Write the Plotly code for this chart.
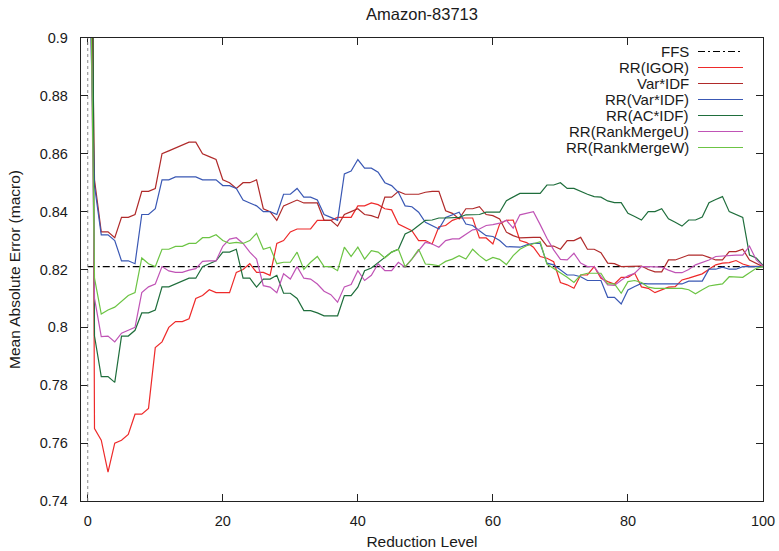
import plotly.graph_objects as go

title_text = "Amazon-83713"
x_label = "Reduction Level"
y_label = "Mean Absolute Error (macro)"

reduction_levels = list(range(0, 101))
ffs_value = 0.821

series_names = ["RR(IGOR)", "Var*IDF", "RR(Var*IDF)", "RR(AC*IDF)", "RR(RankMergeU)", "RR(RankMergeW)"]
series_colors = ["#ee2a2a", "#b02a2a", "#3a58b4", "#1f6e3c", "#c054b6", "#6cc444"]

rr_igor = [
    1.35, 0.765, 0.761, 0.750, 0.760, 0.761, 0.763, 0.770, 0.770, 0.772,
    0.793, 0.795, 0.800, 0.802, 0.802, 0.803, 0.810, 0.811, 0.813, 0.812,
    0.812, 0.812, 0.819, 0.820, 0.822, 0.819, 0.819, 0.818, 0.829, 0.830,
    0.833, 0.834, 0.834, 0.834, 0.837, 0.837, 0.837, 0.838, 0.838, 0.838,
    0.842, 0.842, 0.843, 0.8424, 0.841, 0.8406, 0.8357, 0.8346, 0.8334, 0.830,
    0.830, 0.8288, 0.8348, 0.8352, 0.837, 0.8378, 0.8378, 0.8378, 0.8309, 0.8309,
    0.8288, 0.8357, 0.837, 0.8371, 0.830, 0.8293, 0.8277, 0.8245, 0.8239, 0.8227,
    0.8155, 0.8147, 0.8135, 0.8181, 0.8181, 0.821, 0.817, 0.8158, 0.815, 0.8173,
    0.8173, 0.8187, 0.814, 0.8135, 0.812, 0.813, 0.8139, 0.8141, 0.8164, 0.817,
    0.8178, 0.8185, 0.8201, 0.8216, 0.8222, 0.8224, 0.8231, 0.8219, 0.8212, 0.8212,
    0.821,
]

var_idf = [
    1.02, 0.851, 0.833, 0.833, 0.831, 0.838, 0.838, 0.839, 0.847, 0.847,
    0.848, 0.860, 0.861, 0.862, 0.863, 0.864, 0.864, 0.860, 0.859, 0.858,
    0.851, 0.850, 0.848, 0.850, 0.850, 0.851, 0.841, 0.840, 0.837, 0.842,
    0.843, 0.844, 0.843, 0.843, 0.843, 0.837, 0.837, 0.835, 0.839, 0.840,
    0.841, 0.839, 0.8386, 0.8378, 0.845, 0.845, 0.847, 0.846, 0.846, 0.846,
    0.8467, 0.847, 0.847, 0.8403, 0.8394, 0.8375, 0.841, 0.841, 0.8417, 0.839,
    0.8386, 0.8375, 0.8329, 0.8317, 0.8309, 0.8311, 0.8311, 0.8311, 0.8281, 0.8281,
    0.827, 0.830, 0.830, 0.8311, 0.827, 0.827, 0.8258, 0.8222, 0.822, 0.821,
    0.821, 0.821, 0.8212, 0.8200, 0.8192, 0.8192, 0.8233, 0.8233, 0.8242, 0.825,
    0.825, 0.825, 0.8242, 0.8233, 0.8233, 0.8262, 0.8262, 0.827, 0.8233, 0.8222,
    0.821,
]

rr_var_idf = [
    0.945, 0.849, 0.832, 0.832, 0.830, 0.823, 0.823, 0.822, 0.839, 0.839,
    0.841, 0.851, 0.851, 0.852, 0.852, 0.852, 0.852, 0.851, 0.851, 0.851,
    0.849, 0.849, 0.848, 0.844, 0.843, 0.842, 0.840, 0.840, 0.839, 0.846,
    0.846, 0.848, 0.845, 0.845, 0.844, 0.839, 0.838, 0.837, 0.853, 0.854,
    0.858, 0.855, 0.855, 0.8536, 0.850, 0.849, 0.8467, 0.842, 0.8417, 0.8398,
    0.8363, 0.8352, 0.834, 0.838, 0.839, 0.8398, 0.8357, 0.8352, 0.8334, 0.8317,
    0.8314, 0.830, 0.8279, 0.8277, 0.8277, 0.8285, 0.829, 0.829, 0.8222, 0.8216,
    0.8198, 0.8181, 0.8181, 0.8175, 0.8162, 0.8162, 0.8162, 0.8104, 0.8104, 0.8081,
    0.8129, 0.8141, 0.8152, 0.815, 0.815, 0.815, 0.815, 0.815, 0.815, 0.816,
    0.816, 0.816, 0.8201, 0.8201, 0.8208, 0.8201, 0.8201, 0.821, 0.821, 0.821,
    0.821,
]

rr_ac_idf = [
    1.31, 0.797, 0.783, 0.783, 0.781, 0.797, 0.797, 0.799, 0.805, 0.805,
    0.806, 0.814, 0.814, 0.815, 0.816, 0.817, 0.817, 0.821, 0.822, 0.823,
    0.826, 0.826, 0.827, 0.817, 0.817, 0.8139, 0.8167, 0.8167, 0.818, 0.8118,
    0.8118, 0.810, 0.8058, 0.8058, 0.805, 0.804, 0.804, 0.804, 0.811, 0.811,
    0.8139, 0.8196, 0.8205, 0.8225, 0.8242, 0.826, 0.827, 0.8323, 0.8334, 0.8352,
    0.837, 0.8371, 0.8378, 0.8378, 0.8378, 0.838, 0.8389, 0.8389, 0.839, 0.8398,
    0.8398, 0.8398, 0.8438, 0.845, 0.8463, 0.8463, 0.8463, 0.8463, 0.8492, 0.8492,
    0.850, 0.848, 0.848, 0.8469, 0.846, 0.8452, 0.845, 0.8437, 0.8431, 0.8431,
    0.8394, 0.8383, 0.8371, 0.840, 0.840, 0.841, 0.8375, 0.8363, 0.835, 0.8371,
    0.8371, 0.8381, 0.8431, 0.8442, 0.8452, 0.840, 0.8391, 0.838, 0.825, 0.824,
    0.8214,
]

rr_rankmerge_u = [
    1.0, 0.810, 0.7968, 0.797, 0.795, 0.798, 0.799, 0.800, 0.812, 0.814,
    0.815, 0.821, 0.8195, 0.819, 0.819, 0.8198, 0.8203, 0.8228, 0.823, 0.823,
    0.828, 0.8305, 0.831, 0.829, 0.826, 0.8236, 0.8144, 0.8139, 0.812, 0.8185,
    0.8167, 0.821, 0.817, 0.8167, 0.815, 0.8125, 0.8113, 0.8087, 0.814, 0.8148,
    0.8196, 0.8162, 0.818, 0.822, 0.8196, 0.8196, 0.8225, 0.8208, 0.8236, 0.8265,
    0.8294, 0.8288, 0.8277, 0.830, 0.8306, 0.8306, 0.832, 0.8337, 0.834, 0.8352,
    0.8355, 0.836, 0.837, 0.8343, 0.8389, 0.8395, 0.840, 0.8355, 0.8308, 0.8268,
    0.8235, 0.8233, 0.8256, 0.8222, 0.821, 0.821, 0.8176, 0.8147, 0.8145, 0.8163,
    0.8178, 0.8187, 0.821, 0.821, 0.8208, 0.8208, 0.8198, 0.8189, 0.8189, 0.820,
    0.8216, 0.8224, 0.8233, 0.8245, 0.8247, 0.8247, 0.825, 0.825, 0.8281, 0.8233,
    0.8212,
]

rr_rankmerge_w = [
    1.0, 0.817, 0.8046, 0.806, 0.807, 0.809, 0.811, 0.812, 0.824, 0.822,
    0.821, 0.827, 0.827, 0.828, 0.828, 0.829, 0.829, 0.831, 0.831, 0.832,
    0.830, 0.829, 0.8294, 0.829, 0.830, 0.8325, 0.827, 0.8277, 0.822, 0.8225,
    0.8225, 0.826, 0.820, 0.8225, 0.8245, 0.821, 0.821, 0.8196, 0.8277, 0.8245,
    0.8277, 0.8236, 0.8265, 0.826, 0.824, 0.826, 0.827, 0.821, 0.8236, 0.827,
    0.8219, 0.8217, 0.8213, 0.8228, 0.8236, 0.8248, 0.8236, 0.827, 0.8248, 0.823,
    0.8242, 0.8235, 0.8217, 0.8248, 0.827, 0.8282, 0.829, 0.8296, 0.8219, 0.8204,
    0.8187, 0.8173, 0.8155, 0.8181, 0.8187, 0.8187, 0.8187, 0.815, 0.815, 0.8118,
    0.8158, 0.8162, 0.8155, 0.8139, 0.8135, 0.8135, 0.8135, 0.8135, 0.8135, 0.813,
    0.8116, 0.813, 0.8143, 0.8147, 0.815, 0.8175, 0.8175, 0.8173, 0.8189, 0.8204,
    0.821,
]

series_values = [rr_igor, var_idf, rr_var_idf, rr_ac_idf, rr_rankmerge_u, rr_rankmerge_w]

x_ticks = [0, 20, 40, 60, 80, 100]
y_ticks = [0.74, 0.76, 0.78, 0.8, 0.82, 0.84, 0.86, 0.88, 0.9]
y_tick_labels = ["0.74", "0.76", "0.78", "0.8", "0.82", "0.84", "0.86", "0.88", "0.9"]

FONT = "Liberation Sans, Arial, sans-serif"
TXT = "#1a1a1a"
FFS_DASH = "7px,3px,2px,3px"

fig = go.Figure()

fig.add_trace(go.Scatter(
    x=[reduction_levels[0], reduction_levels[-1]], y=[ffs_value, ffs_value],
    mode="lines", name="FFS",
    line=dict(color="#000000", width=1.1, dash=FFS_DASH),
    showlegend=False,
))
for name, vals, col in zip(series_names, series_values, series_colors):
    fig.add_trace(go.Scatter(
        x=reduction_levels, y=vals, mode="lines", name=name,
        line=dict(color=col, width=1.2), showlegend=False,
    ))

# zero reference line (dotted gray)
fig.add_vline(x=0, line=dict(color="#8a8a8a", width=1, dash="dot"))

# gnuplot-style legend: right-aligned text with the line sample to its right
legend_names = ["FFS"] + series_names
legend_colors = ["#000000"] + series_colors
legend_dash = [FFS_DASH] + ["solid"] * len(series_names)
row0 = 1 - (51.5 - 38) / 463.0
row_step = 16.0 / 463.0
text_right = (689.5 - 81) / 682.0
s0 = (698 - 81) / 682.0
s1 = (743 - 81) / 682.0
for i, (nm, col, ds) in enumerate(zip(legend_names, legend_colors, legend_dash)):
    yy = row0 - i * row_step
    fig.add_annotation(
        x=text_right, y=yy, xref="paper", yref="paper", text=nm, showarrow=False,
        xanchor="right", yanchor="middle", borderpad=0,
        font=dict(family=FONT, size=15, color=TXT),
    )
    fig.add_shape(
        type="line", xref="paper", yref="paper", x0=s0, x1=s1, y0=yy, y1=yy,
        line=dict(color=col, width=1.2, dash=ds),
    )

fig.update_layout(
    width=779, height=551,
    margin=dict(l=81, r=16, t=38, b=50, autoexpand=False),
    paper_bgcolor="white", plot_bgcolor="white",
    font=dict(family=FONT, size=14.5, color=TXT),
    title=dict(text=title_text, x=(81 + 763) / 2 / 779, xanchor="center",
               y=1 - 14 / 551, yanchor="middle", yref="container",
               font=dict(family=FONT, size=16.5, color=TXT)),
    showlegend=False,
)
fig.update_xaxes(
    range=[-1, 100], tickvals=x_ticks, ticks="inside", ticklen=7, tickcolor="#222",
    showline=True, linecolor="#222", linewidth=1.3, mirror="ticks",
    showgrid=False, zeroline=False, ticklabelstandoff=6, automargin=False,
    tickfont=dict(family=FONT, size=14.5, color=TXT),
    title=dict(text=x_label, standoff=8, font=dict(family=FONT, size=15.5, color=TXT)),
)
fig.update_yaxes(
    range=[0.74, 0.9], tickvals=y_ticks, ticktext=y_tick_labels, ticks="inside", ticklen=7,
    tickcolor="#222", showline=True, linecolor="#222", linewidth=1.3, mirror="ticks",
    showgrid=False, zeroline=False, ticklabelstandoff=9, automargin=False,
    tickfont=dict(family=FONT, size=14.5, color=TXT),
    title=dict(text=y_label, standoff=15, font=dict(family=FONT, size=15.5, color=TXT)),
)

fig.write_html("out.html", config={"displayModeBar": False},
               post_script="document.body.style.margin='0';")
